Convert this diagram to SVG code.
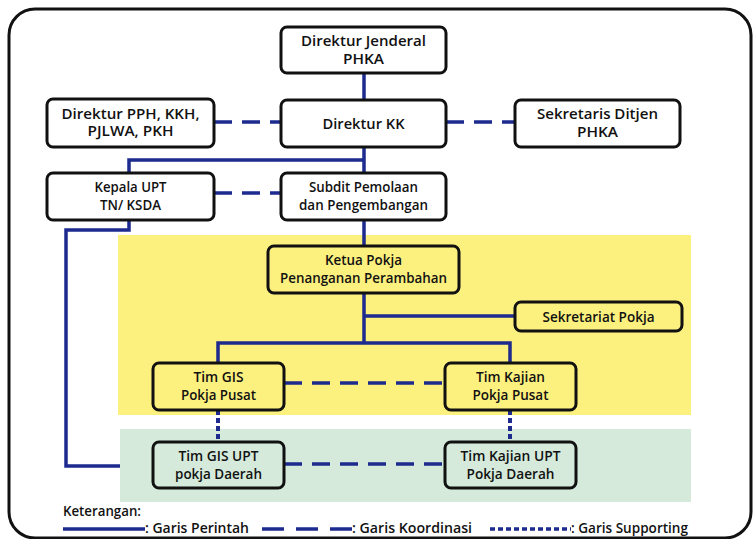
<svg xmlns="http://www.w3.org/2000/svg" width="756" height="539" viewBox="0 0 756 539">
<style>
.box{stroke:#111;stroke-width:3;}
.w{fill:#fff}.y{fill:#fcf07e}.g{fill:#d5eadb}
text{font-family:"Open Sans","Noto Sans","Liberation Sans",sans-serif;font-weight:600;font-size:15px;fill:#111;text-anchor:middle}
.lg{text-anchor:start}
.cmd{stroke:#1d2a8e;stroke-width:3.5;fill:none}
.coord{stroke:#1d2a8e;stroke-width:3.5;fill:none;stroke-dasharray:18 10}
.sup{stroke:#1d2a8e;stroke-width:4;fill:none;stroke-dasharray:5 3}
</style>
<rect x="0" y="0" width="756" height="539" fill="#fff"/>
<rect x="9" y="9" width="742" height="529" rx="26" fill="#fff" stroke="#111" stroke-width="3"/>
<rect x="118" y="235" width="573" height="180" fill="#fcf07e"/>
<rect x="120" y="429" width="571" height="73" fill="#d5eadb"/>
<g id="connectors">
<path class="cmd" d="M364 73V100M364 147V173M364 160H129V173M129 220V230H66V466H120M364 220V246M364 293V343M364 316H515M218 363V343H510V363"/>
<path class="coord" d="M214 122H281M446 122H515M214 193H281M284 383H445M284 464H445"/>
<path class="sup" d="M218 410V442M510 410V442"/>
</g>
<g id="n-dirjen"><rect class="box w" x="281" y="27" width="165" height="46" rx="6"/><text x="363.5" y="46" textLength="125" lengthAdjust="spacingAndGlyphs">Direktur Jenderal</text><text x="363.5" y="64" textLength="41" lengthAdjust="spacingAndGlyphs">PHKA</text></g>
<g id="n-pph"><rect class="box w" x="47" y="99" width="167" height="48" rx="6"/><text x="130.5" y="119" textLength="138" lengthAdjust="spacingAndGlyphs">Direktur PPH, KKH,</text><text x="130.5" y="136" textLength="86" lengthAdjust="spacingAndGlyphs">PJLWA, PKH</text></g>
<g id="n-dirkk"><rect class="box w" x="281" y="100" width="165" height="47" rx="6"/><text x="363.5" y="129" textLength="82" lengthAdjust="spacingAndGlyphs">Direktur KK</text></g>
<g id="n-sekditjen"><rect class="box w" x="515" y="100" width="165" height="47" rx="6"/><text x="597.5" y="119" textLength="121" lengthAdjust="spacingAndGlyphs">Sekretaris Ditjen</text><text x="597.5" y="137" textLength="41" lengthAdjust="spacingAndGlyphs">PHKA</text></g>
<g id="n-kepala"><rect class="box w" x="47" y="173" width="167" height="47" rx="6"/><text x="130.5" y="192" textLength="72" lengthAdjust="spacingAndGlyphs">Kepala UPT</text><text x="130.5" y="210" textLength="61" lengthAdjust="spacingAndGlyphs">TN/ KSDA</text></g>
<g id="n-subdit"><rect class="box w" x="281" y="173" width="165" height="47" rx="6"/><text x="363.5" y="192" textLength="109" lengthAdjust="spacingAndGlyphs">Subdit Pemolaan</text><text x="363.5" y="210" textLength="129" lengthAdjust="spacingAndGlyphs">dan Pengembangan</text></g>
<g id="n-ketua"><rect class="box y" x="268" y="246" width="191" height="47" rx="6"/><text x="363.5" y="265" textLength="77" lengthAdjust="spacingAndGlyphs">Ketua Pokja</text><text x="363.5" y="283" textLength="167" lengthAdjust="spacingAndGlyphs">Penanganan Perambahan</text></g>
<g id="n-sekpokja"><rect class="box y" x="515" y="302" width="167" height="29" rx="6"/><text x="598.5" y="322" textLength="112" lengthAdjust="spacingAndGlyphs">Sekretariat Pokja</text></g>
<g id="n-gispusat"><rect class="box y" x="153" y="363" width="131" height="47" rx="6"/><text x="218.5" y="382" textLength="50" lengthAdjust="spacingAndGlyphs">Tim GIS</text><text x="218.5" y="400" textLength="75" lengthAdjust="spacingAndGlyphs">Pokja Pusat</text></g>
<g id="n-kajianpusat"><rect class="box y" x="445" y="363" width="131" height="47" rx="6"/><text x="510.5" y="382" textLength="69" lengthAdjust="spacingAndGlyphs">Tim Kajian</text><text x="510.5" y="400" textLength="76" lengthAdjust="spacingAndGlyphs">Pokja Pusat</text></g>
<g id="n-gisupt"><rect class="box g" x="153" y="442" width="131" height="46" rx="6"/><text x="218.5" y="461" textLength="80" lengthAdjust="spacingAndGlyphs">Tim GIS UPT</text><text x="218.5" y="479" textLength="87" lengthAdjust="spacingAndGlyphs">pokja Daerah</text></g>
<g id="n-kajianupt"><rect class="box g" x="445" y="442" width="131" height="46" rx="6"/><text x="510.5" y="461" textLength="100" lengthAdjust="spacingAndGlyphs">Tim Kajian UPT</text><text x="510.5" y="479" textLength="88" lengthAdjust="spacingAndGlyphs">Pokja Daerah</text></g>
<g id="legend">
<text class="lg" x="63" y="516" textLength="78" lengthAdjust="spacingAndGlyphs">Keterangan:</text>
<path class="cmd" d="M63 529H145"/>
<text class="lg" x="145" y="533" textLength="104" lengthAdjust="spacingAndGlyphs">: Garis Perintah</text>
<path class="cmd" d="M262 529H352" stroke-dasharray="22 12"/>
<text class="lg" x="352" y="533" textLength="120" lengthAdjust="spacingAndGlyphs">: Garis Koordinasi</text>
<path class="cmd" d="M490 529H571" stroke-dasharray="5 3"/>
<text class="lg" x="571" y="533" textLength="117" lengthAdjust="spacingAndGlyphs">: Garis Supporting</text>
</g>
</svg>
